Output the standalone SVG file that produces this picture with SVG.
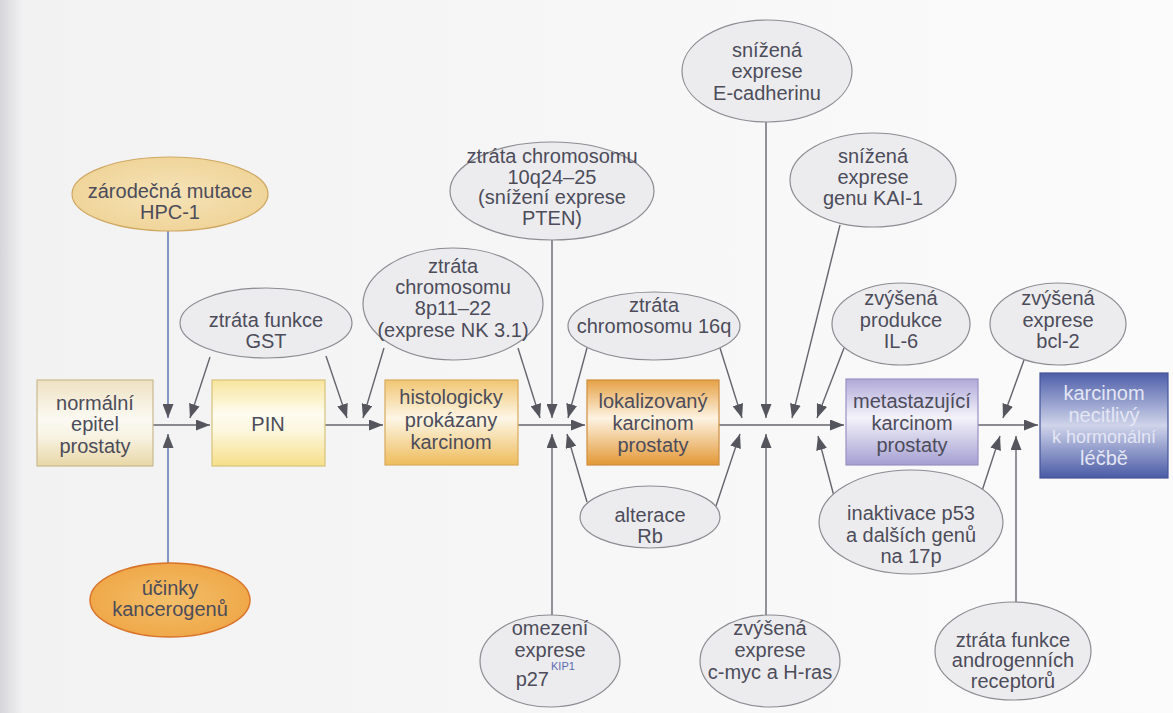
<svg xmlns="http://www.w3.org/2000/svg" width="1173" height="713" viewBox="0 0 1173 713">
<defs>
<style>
text{font-family:"Liberation Sans","DejaVu Sans",sans-serif;font-size:20px;fill:#4c4c5a;text-anchor:middle}
.el{fill:#ececef;stroke:#8c8c92;stroke-width:1.2}
.box{stroke-width:1.2}
.c{stroke:#65656e;stroke-width:1.4;fill:none;marker-end:url(#ah)}
.cb{stroke:#5f76b0;stroke-width:1.5;fill:none;marker-end:url(#ah)}
.sup{font-size:11px;fill:#5a6ab0;text-anchor:start}
.lt{fill:#e4e6f4}
</style>
<marker id="ah" markerUnits="userSpaceOnUse" markerWidth="15" markerHeight="11" refX="14" refY="5.5" orient="auto">
<path d="M0,0 L14,5.5 L0,11 z" fill="#55555e"/>
</marker>
<linearGradient id="bg" x1="0" y1="0" x2="1" y2="0">
<stop offset="0" stop-color="#d6d6da"/><stop offset="0.02" stop-color="#f2f2f3"/><stop offset="1" stop-color="#fbfbfb"/>
</linearGradient>
<linearGradient id="gNorm" x1="0" y1="0" x2="0" y2="1">
<stop offset="0" stop-color="#eee2c2"/><stop offset="0.45" stop-color="#fbf9f2"/><stop offset="0.65" stop-color="#f8f3e4"/><stop offset="1" stop-color="#e8d7a6"/>
</linearGradient>
<linearGradient id="gPin" x1="0" y1="0" x2="0" y2="1">
<stop offset="0" stop-color="#f8e59c"/><stop offset="0.4" stop-color="#fefcf1"/><stop offset="0.6" stop-color="#fcf6dc"/><stop offset="1" stop-color="#f6df88"/>
</linearGradient>
<linearGradient id="gHist" x1="0" y1="0" x2="0" y2="1">
<stop offset="0" stop-color="#f1c672"/><stop offset="0.45" stop-color="#fdf6e6"/><stop offset="1" stop-color="#eebc5c"/>
</linearGradient>
<linearGradient id="gLok" x1="0" y1="0" x2="0" y2="1">
<stop offset="0" stop-color="#e6a146"/><stop offset="0.45" stop-color="#fdf3e2"/><stop offset="1" stop-color="#e39836"/>
</linearGradient>
<linearGradient id="gMet" x1="0" y1="0" x2="0" y2="1">
<stop offset="0" stop-color="#b0a9d9"/><stop offset="0.45" stop-color="#f4f3fa"/><stop offset="1" stop-color="#a59fd2"/>
</linearGradient>
<linearGradient id="gKarc" x1="0" y1="0" x2="0" y2="1">
<stop offset="0" stop-color="#4d5ea9"/><stop offset="0.5" stop-color="#cfd4ea"/><stop offset="1" stop-color="#4a5ba6"/>
</linearGradient>
<radialGradient id="gHpc" cx="0.5" cy="0.5" r="0.6">
<stop offset="0" stop-color="#f5e3b8"/><stop offset="1" stop-color="#efd294"/>
</radialGradient>
<radialGradient id="gKanc" cx="0.5" cy="0.5" r="0.6">
<stop offset="0" stop-color="#f4bf6a"/><stop offset="1" stop-color="#eea443"/>
</radialGradient>
</defs>
<rect x="0" y="0" width="1173" height="713" fill="url(#bg)"/>

<g id="connectors">
<line class="c" x1="153" y1="425" x2="210" y2="425"/>
<line class="c" x1="325" y1="425" x2="383" y2="425"/>
<line class="c" x1="518" y1="425" x2="585" y2="425"/>
<line class="c" x1="719" y1="425" x2="844" y2="425"/>
<line class="c" x1="978" y1="425" x2="1038" y2="425"/>
<line class="cb" x1="168" y1="231" x2="168" y2="418"/>
<line class="cb" x1="168" y1="563" x2="168" y2="434"/>
<line class="c" x1="210" y1="357" x2="190" y2="418"/>
<line class="c" x1="326" y1="356" x2="347" y2="418"/>
<line class="c" x1="384" y1="348" x2="363" y2="418"/>
<line class="c" x1="518" y1="348" x2="540" y2="418"/>
<line class="c" x1="552" y1="240" x2="552" y2="418"/>
<line class="c" x1="587" y1="348" x2="568" y2="418"/>
<line class="c" x1="720" y1="348" x2="742" y2="418"/>
<line class="c" x1="766" y1="122" x2="766" y2="418"/>
<line class="c" x1="840" y1="225" x2="792" y2="418"/>
<line class="c" x1="844" y1="348" x2="817" y2="418"/>
<line class="c" x1="1024" y1="360" x2="1003" y2="418"/>
<line class="c" x1="552" y1="615" x2="552" y2="434"/>
<line class="c" x1="587" y1="502" x2="567" y2="434"/>
<line class="c" x1="716" y1="506" x2="740" y2="434"/>
<line class="c" x1="766" y1="615" x2="766" y2="434"/>
<line class="c" x1="835" y1="500" x2="818" y2="436"/>
<line class="c" x1="980" y1="497" x2="1000" y2="436"/>
<line class="c" x1="1016" y1="602" x2="1016" y2="436"/>
</g>

<g id="n-normalni">
<rect class="box" x="37" y="380" width="116" height="86" fill="url(#gNorm)" stroke="#c9b98e"/>
<text x="95" y="410">normální</text><text x="95" y="431">epitel</text><text x="95" y="453">prostaty</text>
</g>
<g id="n-pin">
<rect class="box" x="212" y="380" width="113" height="86" fill="url(#gPin)" stroke="#d6c27a"/>
<text x="268" y="431">PIN</text>
</g>
<g id="n-histologicky">
<rect class="box" x="385" y="380" width="133" height="85" fill="url(#gHist)" stroke="#d9aa5a"/>
<text x="451" y="404">histologicky</text><text x="451" y="427">prokázany</text><text x="451" y="449">karcinom</text>
</g>
<g id="n-lokalizovany">
<rect class="box" x="587" y="380" width="132" height="85" fill="url(#gLok)" stroke="#cf8d3c"/>
<text x="653" y="408">lokalizovaný</text><text x="653" y="430">karcinom</text><text x="653" y="452">prostaty</text>
</g>
<g id="n-metastazujici">
<rect class="box" x="846" y="379" width="132" height="86" fill="url(#gMet)" stroke="#9892c2"/>
<text x="912" y="408">metastazující</text><text x="912" y="430">karcinom</text><text x="912" y="452">prostaty</text>
</g>
<g id="n-necitlivy">
<rect class="box" x="1040" y="373" width="128" height="105" fill="url(#gKarc)" stroke="#44549a"/>
<text class="lt" x="1104" y="400">karcinom</text><text class="lt" x="1104" y="422">necitlivý</text><text class="lt" x="1104" y="443" style="font-size:18px">k hormonální</text><text class="lt" x="1104" y="465">léčbě</text>
</g>

<g id="n-hpc1">
<ellipse cx="170" cy="194" rx="98" ry="37" fill="url(#gHpc)" stroke="#cfa862" stroke-width="1.2"/>
<text x="170" y="198">zárodečná mutace</text><text x="170" y="219">HPC-1</text>
</g>
<g id="n-kancerogeny">
<ellipse cx="170" cy="600" rx="80" ry="37" fill="url(#gKanc)" stroke="#d9742a" stroke-width="1.5"/>
<text x="170" y="595">účinky</text><text x="170" y="616">kancerogenů</text>
</g>
<g id="n-gst">
<ellipse class="el" cx="266" cy="323" rx="86" ry="35"/>
<text x="266" y="327">ztráta funkce</text><text x="266" y="348">GST</text>
</g>
<g id="n-8p">
<ellipse class="el" cx="453" cy="304" rx="90" ry="56"/>
<text x="453" y="273">ztráta</text><text x="453" y="294">chromosomu</text><text x="453" y="315">8p11–22</text><text x="453" y="337">(exprese NK 3.1)</text>
</g>
<g id="n-10q">
<ellipse class="el" cx="552" cy="191" rx="102" ry="49"/>
<text x="552" y="163">ztráta chromosomu</text><text x="552" y="184">10q24–25</text><text x="552" y="204">(snížení exprese</text><text x="552" y="225">PTEN)</text>
</g>
<g id="n-16q">
<ellipse class="el" cx="654" cy="326" rx="86" ry="34"/>
<text x="654" y="312">ztráta</text><text x="654" y="333">chromosomu 16q</text>
</g>
<g id="n-ecad">
<ellipse class="el" cx="767" cy="71" rx="85" ry="51"/>
<text x="767" y="57">snížená</text><text x="767" y="78">exprese</text><text x="767" y="100">E-cadherinu</text>
</g>
<g id="n-kai">
<ellipse class="el" cx="873" cy="180" rx="83" ry="47"/>
<text x="873" y="163">snížená</text><text x="873" y="184">exprese</text><text x="873" y="205">genu KAI-1</text>
</g>
<g id="n-il6">
<ellipse class="el" cx="901" cy="324" rx="69" ry="41"/>
<text x="901" y="305">zvýšená</text><text x="901" y="327">produkce</text><text x="901" y="348">IL-6</text>
</g>
<g id="n-bcl2">
<ellipse class="el" cx="1058" cy="324" rx="68" ry="41"/>
<text x="1058" y="305">zvýšená</text><text x="1058" y="327">exprese</text><text x="1058" y="348">bcl-2</text>
</g>
<g id="n-rb">
<ellipse class="el" cx="650" cy="517" rx="70" ry="31"/>
<text x="650" y="522">alterace</text><text x="650" y="543">Rb</text>
</g>
<g id="n-p27">
<ellipse class="el" cx="550" cy="661" rx="70" ry="46"/>
<text x="550" y="635">omezení</text><text x="550" y="657">exprese</text><text x="549" y="686" style="text-anchor:end">p27</text><text class="sup" x="551" y="670">KIP1</text>
</g>
<g id="n-cmyc">
<ellipse class="el" cx="770" cy="661" rx="70" ry="46"/>
<text x="770" y="635">zvýšená</text><text x="770" y="657">exprese</text><text x="770" y="679">c-myc a H-ras</text>
</g>
<g id="n-p53">
<ellipse class="el" cx="911" cy="522" rx="92" ry="52"/>
<text x="911" y="520">inaktivace p53</text><text x="911" y="542">a dalších genů</text><text x="911" y="563">na 17p</text>
</g>
<g id="n-androgen">
<ellipse class="el" cx="1013" cy="651" rx="78" ry="49"/>
<text x="1013" y="647">ztráta funkce</text><text x="1013" y="667">androgenních</text><text x="1013" y="688">receptorů</text>
</g>
</svg>
